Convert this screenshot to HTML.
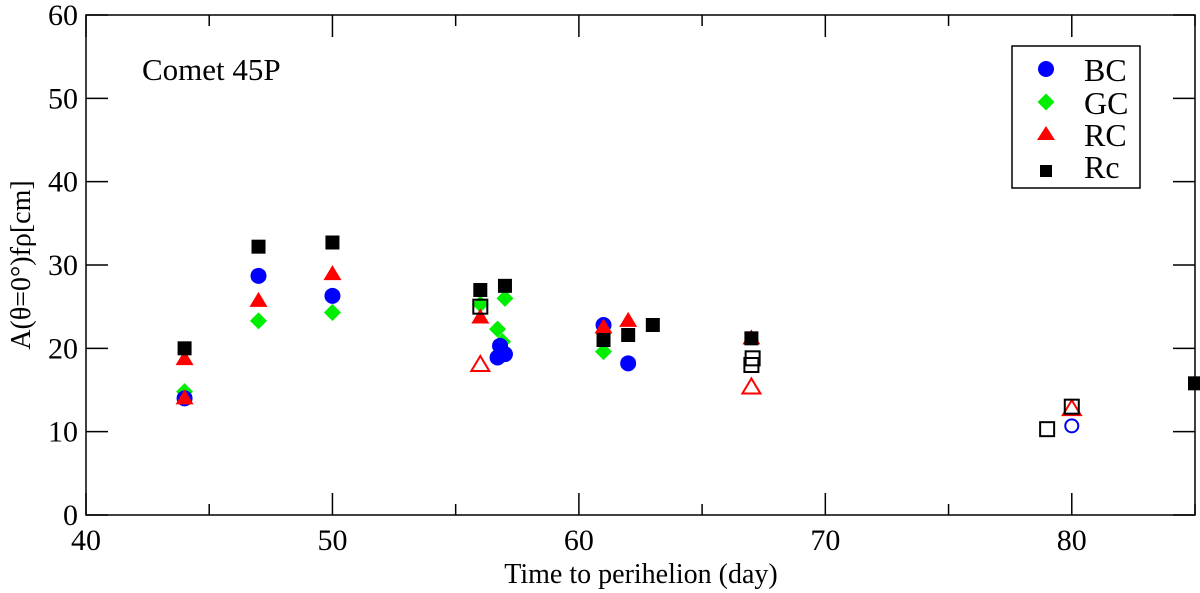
<!DOCTYPE html>
<html><head><meta charset="utf-8"><style>body{margin:0;background:#fff}svg{display:block}text{font-family:"Liberation Serif",serif}</style></head>
<body>
<svg id="c" width="1200" height="593">
<g id="axes"></g>
<g id="marks"></g>
<text x="142" y="80" font-size="31">Comet 45P</text>
<text x="641" y="583" font-size="28" text-anchor="middle">Time to perihelion (day)</text>
<text transform="translate(30,265) rotate(-90)" font-size="28" text-anchor="middle">A(θ=0°)fρ[cm]</text>
<g>
<rect x="1012" y="46" width="128" height="142" fill="#fff" stroke="#000" stroke-width="1.5"/>
<circle cx="1046" cy="69" r="8" fill="#0000ff"/><text x="1084" y="81" font-size="32">BC</text>
<rect x="1040" y="96" width="12" height="12" fill="#00ee00" transform="rotate(45 1046 102)"/><text x="1084" y="114" font-size="32">GC</text>
<polygon points="1046,126 1055,140 1037,140" fill="#ff0000"/><text x="1084" y="146" font-size="32">RC</text>
<rect x="1040" y="165" width="12" height="12" fill="#000"/><text x="1084" y="178" font-size="32">Rc</text>
</g>
</svg>
<script>
const xTicks=[40,50,60,70,80];
const yTicks=[0,10,20,30,40,50,60];
const bcX=[44,47,50,56.8,56.7,57,61,62], bcY=[14.0,28.7,26.3,20.3,18.9,19.3,22.8,18.2];
const bcOpenX=[80], bcOpenY=[10.7];
const gcX=[44,47,50,56,56.7,56.9,57,61], gcY=[14.8,23.3,24.3,25.3,22.3,20.8,26.0,19.6];
const rcX=[44,44,47,50,56,61,62,67], rcY=[14.0,18.7,25.7,28.9,23.7,22.5,23.3,21.2];
const rcOpenX=[56,67,80], rcOpenY=[18.0,15.3,12.7];
const rc2X=[44,47,50,56,57,61,62,63,67,85], rc2Y=[20.0,32.2,32.7,27.0,27.5,21.0,21.6,22.8,21.2,15.8];
const rc2OpenX=[56,67,67.05,79,80], rc2OpenY=[25.0,18.0,18.8,10.3,13.0];
const X0=86,X1=1195,Y0=515,Y1=15;
const sx=v=>X0+(v-40)/45*(X1-X0), sy=v=>Y0-v/60*(Y0-Y1);
const NS="http://www.w3.org/2000/svg";
const ax=document.getElementById('axes'), mk=document.getElementById('marks');
function el(t,a,p){const e=document.createElementNS(NS,t);for(const k in a)e.setAttribute(k,a[k]);p.appendChild(e);return e;}
const fr=el('rect',{x:X0,y:Y1,width:X1-X0,height:Y0-Y1,fill:'none',stroke:'#000','stroke-width':1.5},ax);


xTicks.forEach(v=>{const x=sx(v);
 el('line',{x1:x,x2:x,y1:Y0,y2:Y0-22,stroke:'#000','stroke-width':1.5},ax);
 el('line',{x1:x,x2:x,y1:Y1,y2:Y1+22,stroke:'#000','stroke-width':1.5},ax);
 if(v+5<=85){const m=sx(v+5);el('line',{x1:m,x2:m,y1:Y0,y2:Y0-11,stroke:'#000','stroke-width':1.5},ax);el('line',{x1:m,x2:m,y1:Y1,y2:Y1+11,stroke:'#000','stroke-width':1.5},ax);}
 const t=el('text',{x:x,y:Y0+35,'font-size':30,'text-anchor':'middle'},ax);t.textContent=v;
 
 
});
yTicks.forEach(v=>{const y=sy(v);
 el('line',{x1:X0,x2:X0+22,y1:y,y2:y,stroke:'#000','stroke-width':1.5},ax);
 el('line',{x1:X1,x2:X1-22,y1:y,y2:y,stroke:'#000','stroke-width':1.5},ax);
 const t=el('text',{x:X0-8,y:y+10,'font-size':30,'text-anchor':'end'},ax);t.textContent=v;
 
 
});
function pts(xs,ys,shape,color,open,name){
 xs.forEach((xv,i)=>{const x=sx(xv),y=sy(ys[i]);let e;
  const st=open?{fill:'none',stroke:color,'stroke-width':2}:{fill:color};
  if(shape==='c')e=el('circle',Object.assign({cx:x,cy:y,r:open?6.5:8},st),mk);
  else if(shape==='d')e=el('rect',Object.assign({x:x-6,y:y-6,width:12,height:12,transform:`rotate(45 ${x} ${y})`},st),mk);
  else if(shape==='t')e=el('polygon',Object.assign({points:`${x},${y-9} ${x+9},${y+6} ${x-9},${y+6}`},st),mk);
  else e=el('rect',Object.assign({x:x-7,y:y-7,width:14,height:14},st),mk);
  
  
 });
}
pts(gcX,gcY,'d','#00ee00',false,'gc-point');
pts(bcX,bcY,'c','#0000ff',false,'bc-point');
pts(bcOpenX,bcOpenY,'c','#0000ff',true,'bc-open-point');
pts(rcX,rcY,'t','#ff0000',false,'rc-point');
pts(rcOpenX,rcOpenY,'t','#ff0000',true,'rc-open-point');
pts(rc2X,rc2Y,'s','#000',false,'rc-lower-point');
pts(rc2OpenX,rc2OpenY,'s','#000',true,'rc-lower-open-point');
</script>
</body></html>
